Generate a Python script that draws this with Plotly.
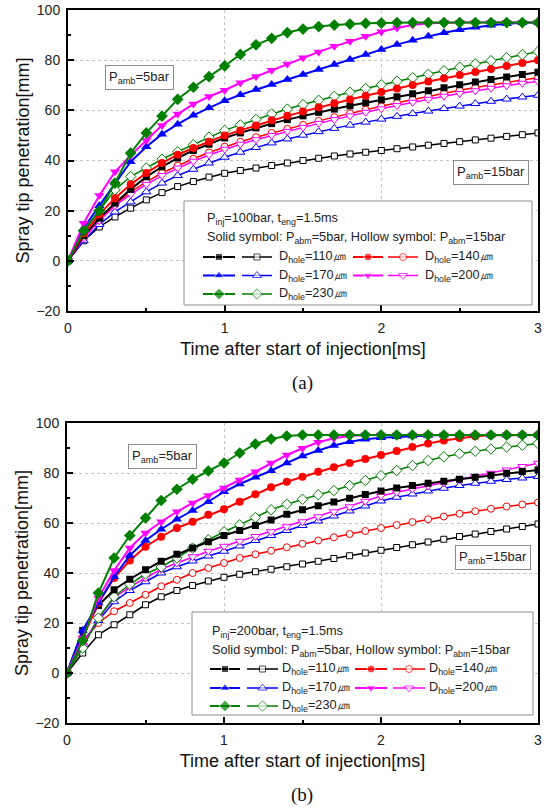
import plotly.graph_objects as go

# ---------------- data ----------------
t = [0.0, 0.1, 0.2, 0.3, 0.4, 0.5, 0.6, 0.7, 0.8, 0.9, 1.0, 1.1, 1.2, 1.3, 1.4, 1.5,
     1.6, 1.7, 1.8, 1.9, 2.0, 2.1, 2.2, 2.3, 2.4, 2.5, 2.6, 2.7, 2.8, 2.9, 3.0]

hole_labels = ["110", "140", "170", "200", "230"]

# Panel (a): Pinj = 100 bar ; solid = 5 bar ambient, hollow = 15 bar ambient
a_s110 = [0, 10, 17, 23, 28.5, 33.5, 37.5, 41, 44, 46.5, 49, 51, 53, 54.7, 56.3, 57.8, 59.2, 60.5, 61.8, 63, 64.2, 65.4, 66.6, 67.8, 69, 70.2, 71.3, 72.3, 73.3, 74.3, 75.2]
a_s140 = [0, 11, 18.5, 25, 30.5, 35, 39, 42.3, 45, 47.5, 50, 52, 54, 56, 57.8, 59.5, 61.2, 62.8, 64.3, 65.8, 67.3, 68.7, 70.1, 71.5, 72.8, 74.1, 75.3, 76.5, 77.7, 78.9, 80]
a_s170 = [0, 13, 22, 31, 39.5, 45.5, 50.5, 54.5, 58, 61, 63.8, 66.2, 68.3, 70.3, 72.3, 74.3, 76.3, 78.3, 80.3, 82.3, 84.3, 86.2, 87.9, 89.5, 90.9, 92.1, 93.1, 93.9, 94.5, 94.9, 95]
a_s200 = [0, 15, 26, 35.5, 42, 48, 54, 58.5, 62.5, 65.5, 68, 71, 73.5, 76, 78.5, 81, 83.3, 85.5, 87.5, 89.5, 91.3, 92.8, 94, 94.7, 95, 95, 95, 95, 95, 95, 95]
a_s230 = [0, 12, 20, 31, 43, 51, 57.7, 64.4, 69.2, 73.4, 77.7, 82.3, 86.1, 88.7, 91, 92.4, 93.4, 94, 94.4, 94.7, 94.8, 95, 95, 95, 95, 95, 95, 95, 95, 95, 95]
a_h110 = [0, 8, 13.5, 17.5, 21, 24.3, 27.2, 29.6, 31.6, 33.4, 34.9, 36, 37, 38, 39, 40, 40.9, 41.8, 42.6, 43.3, 44, 44.7, 45.4, 46.1, 46.8, 47.5, 48.2, 48.9, 49.6, 50.3, 51]
a_h140 = [0, 9, 16.5, 22.5, 27.5, 31.5, 35, 38, 40.7, 43.2, 45.5, 47.5, 49.3, 51, 52.6, 54.2, 55.8, 57.3, 58.8, 60.2, 61.6, 63, 64.3, 65.6, 66.8, 68, 69.1, 70.2, 71.2, 72.1, 73]
a_h170 = [0, 8, 14.5, 19.5, 23.5, 27.5, 31, 34, 36.5, 39, 41.3, 43.3, 45.2, 47, 48.6, 50.1, 51.5, 52.8, 54.1, 55.3, 56.5, 57.6, 58.7, 59.7, 60.7, 61.7, 62.7, 63.6, 64.5, 65.3, 66]
a_h200 = [0, 9, 16, 22, 26.5, 30.5, 34, 37, 39.7, 42.2, 44.5, 46.5, 48.3, 50, 51.6, 53.2, 54.8, 56.3, 57.8, 59.2, 60.6, 61.9, 63.2, 64.4, 65.6, 66.7, 67.8, 68.8, 69.8, 70.8, 71.5]
a_h230 = [0, 12, 20, 28.3, 33.6, 37, 40.5, 43.5, 46.3, 49.3, 52, 54.2, 56.4, 58.6, 60.5, 62.3, 64, 65.6, 67.2, 68.7, 70.2, 71.6, 73, 74.4, 75.8, 77.2, 78.5, 79.8, 81, 82.2, 83.4]

# Panel (b): Pinj = 200 bar
b_s110 = [0, 17, 27, 33.3, 37.5, 41.3, 44.7, 47.5, 50, 52.5, 55, 57, 59, 61.2, 63.5, 65.3, 66.9, 68.4, 69.9, 71.4, 72.8, 74, 75, 75.9, 76.7, 77.5, 78.3, 79.1, 79.9, 80.6, 81.2]
b_s140 = [0, 14, 28, 38, 45, 50.5, 54.5, 58, 60.5, 63.3, 65.5, 68.5, 71.5, 74.3, 76.5, 78.5, 80.5, 82.3, 84, 85.6, 87.2, 88.8, 90.4, 91.8, 93, 94, 94.7, 95.1, 95.2, 95.2, 95.2]
b_s170 = [0, 17, 28, 38.5, 47, 53, 57.5, 61.5, 65, 68.5, 72.5, 75.6, 78.3, 80.9, 84, 86.8, 89, 91, 92.5, 93.5, 94.1, 94.5, 94.8, 95, 95.2, 95.2, 95.2, 95.2, 95.2, 95.2, 95.2]
b_s200 = [0, 14, 30, 41, 50, 56, 60.5, 64.5, 68, 71, 74, 77.2, 80.5, 84, 87.2, 89.9, 92.3, 93.9, 94.8, 95.2, 95.2, 95.2, 95.2, 95.2, 95.2, 95.2, 95.2, 95.2, 95.2, 95.2, 95.2]
b_s230 = [0, 13, 32, 46, 55, 62, 69, 73.5, 77.5, 80.8, 84, 88, 91.6, 93.6, 94.8, 95.2, 95.2, 95.2, 95.2, 95.2, 95.2, 95.2, 95.2, 95.2, 95.2, 95.2, 95.2, 95.2, 95.2, 95.2, 95.2]
b_h110 = [0, 8, 15.3, 19.3, 23.3, 27.3, 30.5, 33, 35, 36.8, 38.3, 39.5, 40.5, 41.5, 42.5, 43.6, 44.7, 45.8, 46.9, 48, 49.1, 50.2, 51.3, 52.4, 53.5, 54.6, 55.6, 56.6, 57.6, 58.6, 59.6]
b_h140 = [0, 12.7, 20, 24.7, 28, 31.3, 34.7, 37.3, 40, 42, 44, 46, 47.5, 48.9, 50.3, 51.7, 53, 54.3, 55.6, 56.8, 58, 59.2, 60.4, 61.5, 62.6, 63.7, 64.7, 65.7, 66.6, 67.4, 68.2]
b_h170 = [0, 12, 21, 28.5, 33, 36.5, 40, 42.5, 44.8, 46.8, 48.7, 50.8, 53, 55, 57, 59, 60.8, 62.8, 64.8, 66.8, 68.8, 70.3, 71.6, 72.8, 73.9, 75, 75.9, 76.7, 77.4, 78, 78.6]
b_h200 = [0, 11, 22, 30, 34.5, 38, 41.5, 44, 46.5, 48.7, 50.7, 52.7, 54.6, 56.5, 58.5, 60.5, 62.5, 64.5, 66.5, 68.7, 70.8, 72.3, 73.6, 74.8, 76, 77.3, 78.6, 79.9, 81.2, 82.6, 83.9]
b_h230 = [0, 10, 22, 30.5, 35.5, 39.6, 42.4, 46, 50, 53.3, 56.5, 59.3, 62.2, 65.3, 67.5, 69.5, 71.3, 73, 75, 77, 79, 81, 83, 85, 86.5, 87.7, 88.7, 89.6, 90.4, 91.1, 91.8]

x_ticks = [0, 1, 2, 3]
y_ticks = [-20, 0, 20, 40, 60, 80, 100]

# ---------------- styling ----------------
W, H = 549, 808
FONT = "Liberation Sans, Arial, sans-serif"
colors = ["#000000", "#ff0000", "#0000ff", "#ff00ff", "#008000"]
solid_sym = ["square", "circle", "triangle-up", "triangle-down", "diamond"]
hollow_sym = ["square", "circle", "triangle-up", "triangle-down", "diamond"]
msize = [7, 8, 9, 9, 9]


def dx(p):
    return p / W


def dy(p):
    return 1 - p / H


panels = [
    dict(solid=[a_s110, a_s140, a_s170, a_s200, a_s230],
         hollow=[a_h110, a_h140, a_h170, a_h200, a_h230],
         xa="x", ya="y", px=(68, 538), py=(10, 311), pinj="100"),
    dict(solid=[b_s110, b_s140, b_s170, b_s200, b_s230],
         hollow=[b_h110, b_h140, b_h170, b_h200, b_h230],
         xa="x2", ya="y2", px=(67, 538), py=(423, 723), pinj="200"),
]

fig = go.Figure()

for p in panels:
    for i in range(5):
        fig.add_trace(go.Scatter(
            x=t, y=p["hollow"][i], xaxis=p["xa"], yaxis=p["ya"], mode="lines+markers",
            line=dict(color=colors[i], width=1.5),
            marker=dict(symbol=hollow_sym[i], size=msize[i] - 1, color="white",
                        line=dict(color=colors[i], width=1)),
            showlegend=False, hoverinfo="skip"))
    for i in range(5):
        fig.add_trace(go.Scatter(
            x=t, y=p["solid"][i], xaxis=p["xa"], yaxis=p["ya"], mode="lines+markers",
            line=dict(color=colors[i], width=2),
            marker=dict(symbol=solid_sym[i], size=msize[i], color=colors[i],
                        line=dict(color=colors[i], width=0)),
            showlegend=False, hoverinfo="skip"))


def xaxis_cfg(px):
    return dict(domain=[dx(px[0]), dx(px[1])], range=[0, 3],
                tickmode="array", tickvals=x_ticks,
                ticks="inside", ticklen=6, tickwidth=1.5, tickcolor="black",
                showline=True, linewidth=2, linecolor="black", mirror=True,
                showgrid=True, gridcolor="#c4c4c4", griddash="dot", gridwidth=1,
                zeroline=False, ticklabelstandoff=3,
                minor=dict(dtick=0.5, tick0=0, ticks="inside", ticklen=3,
                           tickcolor="black", showgrid=False),
                tickfont=dict(family=FONT, size=14, color="#222"),
                title=dict(text="Time after start of injection[ms]",
                           font=dict(family=FONT, size=18, color="#111"), standoff=8))


def yaxis_cfg(py):
    return dict(domain=[dy(py[1]), dy(py[0])], range=[-20, 100],
                tickmode="array", tickvals=y_ticks,
                ticks="inside", ticklen=6, tickwidth=1.5, tickcolor="black",
                showline=True, linewidth=2, linecolor="black", mirror=True,
                showgrid=True, gridcolor="#c4c4c4", griddash="dot", gridwidth=1,
                zeroline=False, ticklabelstandoff=3,
                minor=dict(dtick=10, tick0=0, ticks="inside", ticklen=3,
                           tickcolor="black", showgrid=False),
                tickfont=dict(family=FONT, size=14, color="#222"),
                title=dict(text="Spray tip penetration[mm]",
                           font=dict(family=FONT, size=18, color="#111"), standoff=2))


fig.update_layout(
    width=W, height=H, autosize=False,
    margin=dict(l=0, r=0, t=0, b=0, autoexpand=False),
    paper_bgcolor="white", plot_bgcolor="rgba(0,0,0,0)",
    showlegend=False,
    font=dict(family=FONT, color="#222"),
    xaxis=dict(anchor="y", **xaxis_cfg(panels[0]["px"])),
    yaxis=dict(anchor="x", **yaxis_cfg(panels[0]["py"])),
    xaxis2=dict(anchor="y2", **xaxis_cfg(panels[1]["px"])),
    yaxis2=dict(anchor="x2", **yaxis_cfg(panels[1]["py"])),
    # overlay axes in window-pixel units for the hand-built legends
    xaxis3=dict(anchor="y3", domain=[0, 1], range=[0, W], visible=False, fixedrange=True),
    yaxis3=dict(anchor="x3", domain=[0, 1], range=[H, 0], visible=False, fixedrange=True),
)

shapes = []
annotations = []
LFS = 12.7  # legend font size

legend_geo = [
    dict(box=(184, 201, 532, 305), line1=(205, 219), line2=(205, 238),
         rows=[257, 275.5, 294],
         cols=[dict(s=(203, 235), h=(242, 272), tx=277), dict(s=(353, 383), h=(388, 418), tx=423)],
         amb5=(139, 77.5), amb15=(491, 172.5), cap=(302, 383), caption="(a)"),
    dict(box=(192, 612, 533, 715), line1=(210, 632), line2=(210, 650.5),
         rows=[669, 688, 706],
         cols=[dict(s=(210, 240), h=(247, 278), tx=280), dict(s=(355, 387), h=(393, 425), tx=427)],
         amb5=(162.5, 456.5), amb15=(493, 557), cap=(302, 795), caption="(b)"),
]

slot = [(0, 0), (0, 1), (1, 0), (1, 1), (2, 0)]  # (row, col) per hole size

for k, (p, g) in enumerate(zip(panels, legend_geo)):
    x0, y0, x1, y1 = g["box"]
    shapes.append(dict(type="rect", xref="x3", yref="y3", x0=x0, y0=y0, x1=x1, y1=y1,
                       line=dict(color="#8c8c8c", width=1), fillcolor="white", layer="below"))
    annotations.append(dict(xref="x3", yref="y3", x=g["line1"][0], y=g["line1"][1],
                            xanchor="left", yanchor="middle", showarrow=False,
                            text="P<sub>inj</sub>=" + p["pinj"] + "bar, t<sub>eng</sub>=1.5ms",
                            font=dict(family=FONT, size=LFS, color="#222")))
    annotations.append(dict(xref="x3", yref="y3", x=g["line2"][0], y=g["line2"][1],
                            xanchor="left", yanchor="middle", showarrow=False,
                            text="Solid symbol: P<sub>abm</sub>=5bar, Hollow symbol: P<sub>abm</sub>=15bar",
                            font=dict(family=FONT, size=LFS, color="#222")))
    for i in range(5):
        r, c = slot[i]
        yy = g["rows"][r]
        col = g["cols"][c]
        sx0, sx1 = col["s"]
        fig.add_trace(go.Scatter(
            x=[sx0, (sx0 + sx1) / 2, sx1], y=[yy, yy, yy], xaxis="x3", yaxis="y3",
            mode="lines+markers", line=dict(color=colors[i], width=2),
            marker=dict(symbol=solid_sym[i], size=[0, msize[i], 0], color=colors[i]),
            showlegend=False, hoverinfo="skip"))
        hx0, hx1 = col["h"]
        fig.add_trace(go.Scatter(
            x=[hx0, (hx0 + hx1) / 2, hx1], y=[yy, yy, yy], xaxis="x3", yaxis="y3",
            mode="lines+markers", line=dict(color=colors[i], width=1.5),
            marker=dict(symbol=hollow_sym[i], size=[0, msize[i] - 1, 0], color="white",
                        line=dict(color=colors[i], width=1)),
            showlegend=False, hoverinfo="skip"))
        annotations.append(dict(xref="x3", yref="y3", x=col["tx"], y=yy,
                                xanchor="left", yanchor="middle", showarrow=False,
                                text="D<sub>hole</sub>=" + hole_labels[i] + "㎛",
                                font=dict(family=FONT, size=LFS, color="#222")))
    for (cx, cy), txt in [(g["amb5"], "P<sub>amb</sub>=5bar"), (g["amb15"], "P<sub>amb</sub>=15bar")]:
        annotations.append(dict(xref="x3", yref="y3", x=cx, y=cy, xanchor="center",
                                yanchor="middle", showarrow=False, text=txt,
                                font=dict(family=FONT, size=13, color="#222"),
                                bgcolor="white", bordercolor="#8c8c8c", borderwidth=1,
                                borderpad=3))
    annotations.append(dict(xref="x3", yref="y3", x=g["cap"][0], y=g["cap"][1],
                            xanchor="center", yanchor="middle", showarrow=False,
                            text=g["caption"],
                            font=dict(family="Liberation Serif, Times New Roman, serif",
                                      size=19, color="#111")))

fig.update_layout(shapes=shapes, annotations=annotations)

# remove the default page margin so the figure fills the window exactly
fig.write_html("out.html", config={"displayModeBar": False},
               post_script="document.body.style.margin='0';document.body.style.overflow='hidden';")
